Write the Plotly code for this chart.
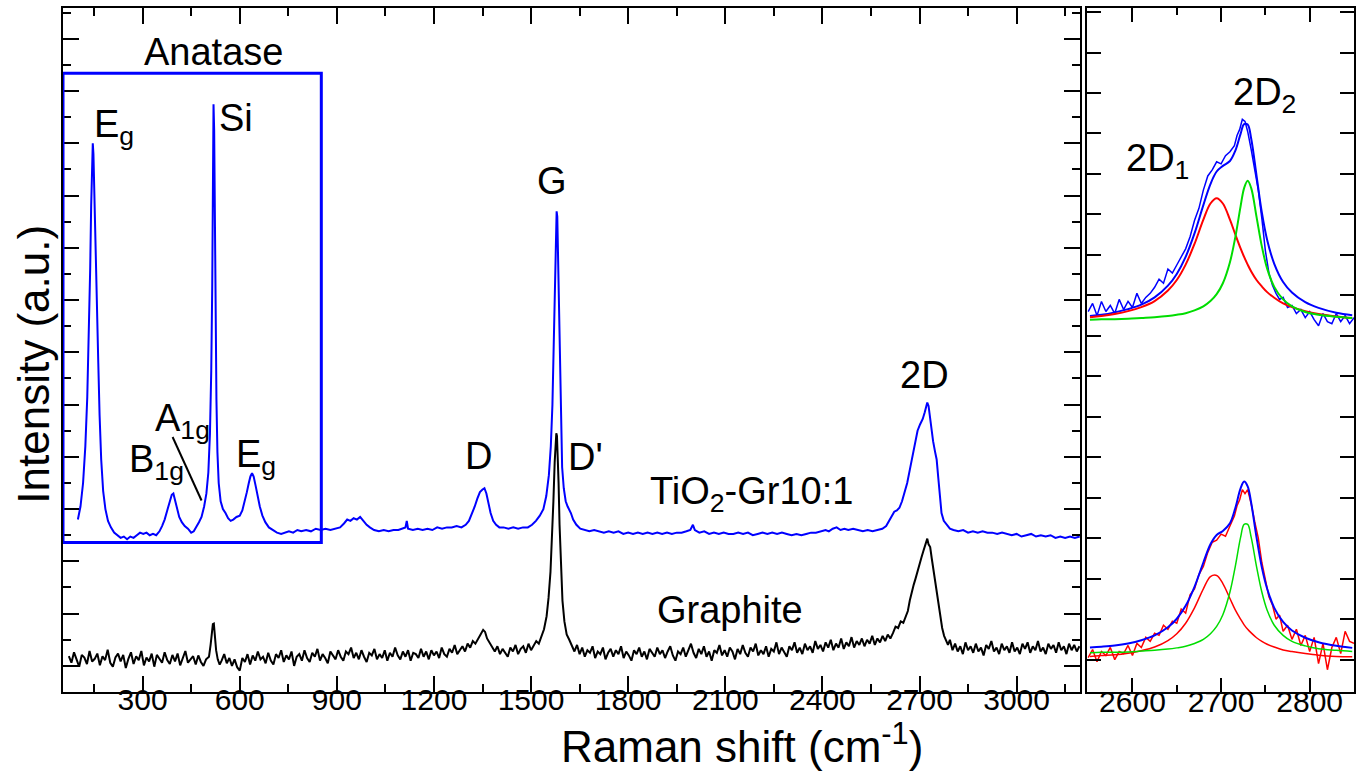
import plotly.graph_objects as go

# ---------------- main panel: TiO2-Gr10:1 (blue) ----------------
blue_x = [100,108,116,123,129,134,138,141,144,146,148,151,155,159,163,167,172,178,185,193,
          202,212,222,232,242,252,262,272,282,292,302,312,322,332,342,352,360,368,376,384,
          390,395,400,406,413,421,430,440,450,458,466,474,482,490,497,503,508,512,515,517,
          519,521,523,525,528,531,535,541,548,556,564,572,580,590,600,608,615,622,628,633,
          638,643,649,655,662,670,679,690,702,715,728,740,752,765,778,790,805,820,835,850,
          865,880,895,910,922,932,942,952,962,972,982,992,1002,1015,1030,1045,1060,1075,1090,1105,
          1112,1116,1120,1135,1150,1165,1180,1195,1210,1225,1240,1255,1270,1285,1298,1308,1317,1326,1334,1342,
          1350,1356,1362,1368,1375,1383,1392,1402,1415,1430,1445,1460,1475,1490,1503,1515,1527,1538,1547,1555,
          1561,1566,1570,1573,1576,1579,1581,1583,1586,1589,1592,1596,1601,1607,1613,1618,1623,1630,1640,1652,
          1665,1680,1695,1710,1725,1740,1755,1770,1785,1800,1815,1830,1845,1860,1875,1890,1905,1920,1935,1950,
          1965,1980,1992,2000,2006,2020,2035,2050,2065,2080,2095,2110,2125,2140,2155,2170,2185,2200,2215,2230,
          2245,2260,2275,2290,2305,2320,2335,2350,2365,2380,2395,2410,2420,2432,2444,2456,2468,2480,2495,2510,
          2525,2540,2555,2570,2585,2597,2606,2614,2622,2630,2638,2646,2654,2662,2670,2678,2686,2694,2702,2710,
          2716,2720,2724,2728,2732,2737,2742,2748,2753,2758,2763,2768,2775,2784,2794,2805,2820,2835,2850,2865,
          2880,2895,2910,2925,2940,2955,2970,2985,3000,3015,3030,3045,3060,3075,3090,3105,3120,3135,3150,3165,
          3180,3195]
blue_y = [6.6,7.1,8.0,9.4,11.3,13.6,16.2,18.6,20.5,21.0,20.6,19.2,17.0,14.8,12.6,10.6,8.9,7.7,7.0,6.55,
          6.3,6.1,6.0,5.9,5.95,5.85,5.95,5.9,6.0,6.1,6.05,6.1,6.0,6.05,6.0,6.15,6.35,6.6,6.95,7.35,
          7.55,7.6,7.35,7.0,6.7,6.5,6.35,6.25,6.1,6.15,6.3,6.5,6.7,7.1,7.6,8.4,9.9,12.3,15.5,19.0,
          22.5,21.5,18.0,14.5,11.2,9.2,8.0,7.3,7.0,6.85,6.65,6.55,6.6,6.7,6.75,6.95,7.25,7.65,8.0,8.25,
          8.38,8.25,7.9,7.5,7.1,6.75,6.5,6.3,6.2,6.1,6.05,6.1,6.15,6.1,6.2,6.15,6.2,6.15,6.25,6.2,
          6.25,6.2,6.25,6.3,6.45,6.6,6.55,6.65,6.6,6.7,6.55,6.4,6.3,6.2,6.15,6.2,6.15,6.2,6.2,6.25,
          6.3,6.55,6.25,6.2,6.25,6.2,6.25,6.2,6.3,6.25,6.3,6.3,6.35,6.3,6.4,6.55,6.8,7.1,7.4,7.65,
          7.75,7.8,7.6,7.25,6.85,6.55,6.4,6.3,6.3,6.25,6.3,6.25,6.3,6.3,6.4,6.55,6.75,7.0,7.5,8.3,
          9.4,11.0,13.2,15.5,17.5,18.4,18.2,16.8,14.5,12.0,10.0,8.6,7.8,7.3,7.1,7.0,6.85,6.6,6.4,6.25,
          6.2,6.15,6.2,6.15,6.1,6.15,6.1,6.15,6.05,6.1,6.05,6.1,6.05,6.1,6.05,6.1,6.05,6.1,6.05,6.1,
          6.1,6.15,6.2,6.4,6.2,6.1,6.15,6.05,6.1,6.05,6.1,6.05,6.05,6.1,6.05,6.1,6.0,6.05,6.1,6.05,
          6.1,6.05,6.1,6.05,6.0,6.05,6.0,6.05,6.1,6.1,6.15,6.2,6.15,6.25,6.3,6.2,6.25,6.2,6.25,6.2,
          6.15,6.2,6.15,6.2,6.25,6.35,6.55,6.75,6.9,6.95,7.05,7.3,7.65,8.0,8.5,9.0,9.55,10.0,10.25,10.45,
          10.7,10.95,11.08,10.95,10.5,10.0,9.6,9.2,8.9,8.2,7.4,6.85,6.55,6.4,6.25,6.2,6.15,6.2,6.1,6.15,
          6.1,6.15,6.1,6.1,6.05,6.1,6.05,6.0,6.05,5.95,6.0,6.05,5.95,6.0,5.95,6.0,5.9,5.95,5.9,5.95,
          5.9,5.95]

# ---------------- main panel: Graphite (black) ----------------
black_x = [72,80,88,96,104,112,120,128,136,144,
           152,160,168,176,184,192,200,208,216,224,
           232,240,248,256,264,272,280,288,296,304,
           312,320,328,336,344,352,360,368,376,384,
           392,400,408,416,424,432,440,448,456,464,
           472,480,488,496,505,510,514,517,520,523,
           527,532,538,544,552,560,568,576,584,592,
           600,608,616,624,632,640,648,656,664,672,
           680,688,696,704,712,720,728,736,744,752,
           760,768,776,784,792,800,808,816,824,832,
           840,848,856,864,872,880,888,896,904,912,
           920,928,936,944,952,960,968,976,984,992,
           1000,1008,1016,1024,1032,1040,1048,1056,1064,1072,
           1080,1088,1096,1104,1112,1120,1128,1136,1144,1152,
           1160,1168,1176,1184,1192,1200,1208,1216,1224,1232,
           1240,1248,1256,1264,1272,1280,1288,1296,1304,1312,
           1320,1328,1336,1344,1352,1358,1364,1372,1380,1388,
           1396,1404,1412,1420,1428,1436,1444,1452,1460,1468,
           1476,1484,1492,1500,1508,1516,1524,1532,1540,1548,
           1554,1560,1565,1569,1573,1576,1578,1580,1582,1585,
           1588,1592,1597,1603,1610,1618,1626,1634,1642,1650,
           1658,1666,1674,1682,1690,1698,1706,1714,1722,1730,
           1738,1746,1754,1762,1770,1778,1786,1794,1802,1810,
           1818,1826,1834,1842,1850,1858,1866,1874,1882,1890,
           1898,1906,1914,1922,1930,1938,1946,1954,1962,1970,
           1978,1986,1994,2002,2010,2018,2026,2034,2042,2050,
           2058,2066,2074,2082,2090,2098,2106,2114,2122,2130,
           2138,2146,2154,2162,2170,2178,2186,2194,2202,2210,
           2218,2226,2234,2242,2250,2258,2266,2274,2282,2290,
           2298,2306,2314,2322,2330,2338,2346,2354,2362,2370,
           2378,2386,2394,2402,2410,2418,2426,2434,2442,2450,
           2458,2466,2474,2482,2490,2498,2506,2514,2522,2530,
           2538,2546,2554,2562,2570,2578,2586,2594,2602,2610,
           2618,2626,2634,2642,2650,2658,2664,2670,2676,2682,
           2688,2694,2700,2706,2712,2717,2721,2724,2728,2733,
           2738,2743,2748,2753,2758,2764,2770,2776,2782,2788,
           2794,2802,2810,2818,2826,2834,2842,2850,2858,2866,
           2874,2882,2890,2898,2906,2914,2922,2930,2938,2946,
           2954,2962,2970,2978,2986,2994,3002,3010,3018,3026,
           3034,3042,3050,3058,3066,3074,3082,3090,3098,3106,
           3114,3122,3130,3138,3146,3154,3162,3170,3178,3186,
           3194]
black_y = [1.37,1.12,1.52,1.22,0.97,1.42,1.32,1.07,1.57,1.17,
           1.27,1.47,1.02,1.37,1.22,1.62,1.12,0.97,1.32,1.47,
           1.17,1.42,0.92,1.27,1.52,1.07,1.37,1.22,1.57,1.02,
           1.32,1.17,1.47,0.97,1.42,1.27,1.12,1.52,1.22,1.07,
           1.42,1.17,1.47,1.02,1.32,1.57,1.12,1.27,1.37,1.05,
           1.40,1.15,1.00,1.25,1.35,1.80,2.30,2.60,2.62,2.20,
           1.60,1.25,1.05,1.20,1.45,1.10,1.30,1.00,1.25,0.95,
           0.82,1.30,1.15,1.45,1.05,1.40,1.20,1.55,1.25,1.35,
           1.10,1.50,1.20,1.05,1.45,1.30,1.60,1.15,1.40,1.25,
           1.55,1.00,1.35,1.45,1.20,1.60,1.30,1.15,1.50,1.35,
           1.65,1.20,1.45,1.30,1.10,1.55,1.40,1.25,1.60,1.35,
           1.20,1.55,1.45,1.70,1.30,1.50,1.25,1.60,1.35,1.15,
           1.50,1.40,1.65,1.25,1.45,1.30,1.60,1.20,1.50,1.35,
           1.70,1.40,1.25,1.55,1.35,1.60,1.20,1.50,1.45,1.30,
           1.65,1.35,1.55,1.25,1.60,1.40,1.55,1.30,1.70,1.45,
           1.35,1.65,1.50,1.80,1.45,1.60,1.75,1.55,1.85,1.70,
           1.95,1.85,2.05,2.20,2.38,2.30,2.05,1.90,1.70,1.55,
           1.75,1.45,1.65,1.50,1.35,1.70,1.55,1.80,1.45,1.65,
           1.75,1.50,1.85,1.60,1.75,1.95,1.85,2.10,2.40,2.90,
           3.60,4.60,5.90,7.30,8.80,9.60,9.90,9.80,9.20,8.00,
           6.40,4.80,3.50,2.70,2.20,2.00,1.80,1.55,1.80,1.45,
           1.70,1.35,1.60,1.50,1.75,1.30,1.55,1.45,1.70,1.25,
           1.50,1.65,1.35,1.60,1.45,1.75,1.30,1.55,1.40,1.20,
           1.60,1.45,1.70,1.35,1.55,1.25,1.65,1.50,1.35,1.70,
           1.45,1.60,1.30,1.55,1.75,1.40,1.20,1.55,1.45,1.70,
           1.35,1.60,1.85,1.50,1.30,1.65,1.45,1.75,1.35,1.55,
           1.20,1.60,1.50,1.80,1.40,1.60,1.35,1.70,1.55,1.25,
           1.65,1.45,1.80,1.50,1.35,1.70,1.55,1.85,1.40,1.60,
           1.45,1.75,1.35,1.65,1.55,1.90,1.45,1.70,1.50,1.35,
           1.75,1.60,1.90,1.50,1.70,1.45,1.85,1.60,1.75,1.50,
           1.95,1.65,1.80,1.55,1.90,1.70,2.00,1.60,1.85,1.70,
           2.05,1.65,1.90,1.75,2.10,1.70,1.95,1.80,2.05,1.75,
           2.00,1.85,2.15,1.80,2.05,1.90,2.15,1.95,2.20,2.05,
           2.25,2.50,2.45,2.70,2.65,2.90,3.10,3.50,3.85,4.10,
           4.35,4.65,4.95,5.15,5.40,5.60,5.80,5.87,5.65,5.55,
           5.10,4.70,4.20,3.75,3.35,2.90,2.45,2.15,2.00,1.80,
           2.00,1.60,1.85,1.55,1.75,1.45,1.90,1.60,1.75,1.50,
           1.85,1.55,1.70,1.40,1.80,1.65,1.95,1.55,1.70,1.45,
           1.85,1.60,1.75,1.50,1.90,1.55,1.70,1.45,1.85,1.65,
           1.90,1.50,1.75,1.60,1.95,1.55,1.70,1.45,1.85,1.65,
           1.80,1.50,1.90,1.60,1.75,1.45,1.85,1.60,1.80,1.55,
           1.75]

# ---------------- right panel: 2D band fits ----------------
fit_x = [2552,2565,2580,2595,2610,2625,2640,2650,2660,2670,2680,2688,2695,2702,2710,
         2716,2722,2726,2730,2734,2740,2746,2752,2760,2770,2780,2795,2810,2830,2848]

# upper (TiO2-Gr10:1)
up_red = [8.46,8.49,8.54,8.61,8.71,8.86,9.12,9.38,9.76,10.27,10.87,11.27,11.40,11.27,10.87,
          10.51,10.16,9.95,9.76,9.59,9.38,9.22,9.08,8.94,8.80,8.71,8.61,8.54,8.48,8.44]
up_green = [8.40,8.41,8.41,8.42,8.44,8.46,8.49,8.52,8.56,8.63,8.73,8.86,9.03,9.30,9.82,
            10.43,11.20,11.65,11.83,11.65,10.94,10.21,9.66,9.21,8.90,8.73,8.59,8.52,8.47,8.44]
up_fit = [8.49,8.52,8.58,8.66,8.77,8.95,9.24,9.53,9.95,10.53,11.23,11.75,12.06,12.20,12.32,
          12.57,12.99,13.23,13.22,12.87,11.96,11.05,10.37,9.78,9.33,9.07,8.83,8.69,8.57,8.51]

up_data_x = [2550,2555,2560,2565,2570,2575,2580,2585,2590,2595,2600,2605,2610,2615,2620,2625,2630,2635,2640,2645,
             2650,2655,2660,2665,2670,2675,2680,2685,2690,2695,2700,2705,2710,2715,2718,2721,2724,2727,2730,2734,
             2738,2742,2746,2750,2754,2758,2762,2766,2770,2775,2780,2785,2790,2795,2800,2805,2810,2815,2820,2825,
             2830,2835,2840,2845,2850]
up_data_y = [8.6,8.8,8.5,8.85,8.6,8.75,8.55,8.9,8.65,8.85,8.7,9.05,8.8,8.95,9.05,9.2,9.4,9.3,9.65,9.55,
             9.75,9.95,10.15,10.45,10.85,11.15,11.6,11.95,12.1,12.3,12.25,12.45,12.55,12.7,12.95,13.1,13.35,13.3,13.05,12.6,
             12.1,11.6,10.9,10.1,9.55,9.25,9.05,8.9,8.95,8.7,8.75,8.55,8.65,8.45,8.6,8.4,8.25,8.55,8.35,8.3,
             8.55,8.35,8.5,8.3,8.45]

# lower (Graphite)
lo_red = [0.08,0.10,0.12,0.16,0.22,0.31,0.47,0.64,0.90,1.28,1.75,2.05,2.08,1.88,1.51,
          1.23,1.00,0.86,0.75,0.66,0.54,0.45,0.38,0.31,0.24,0.20,0.15,0.11,0.08,0.07]
lo_green = [0.17,0.18,0.18,0.19,0.21,0.23,0.26,0.29,0.33,0.40,0.50,0.64,0.82,1.11,1.67,
            2.30,3.02,3.34,3.34,3.02,2.30,1.67,1.22,0.85,0.60,0.45,0.34,0.27,0.23,0.20]
lo_fit = [0.30,0.32,0.35,0.40,0.48,0.60,0.80,1.01,1.33,1.80,2.40,2.85,3.08,3.18,3.37,
          3.74,4.23,4.40,4.28,3.87,3.02,2.28,1.75,1.28,0.93,0.72,0.54,0.43,0.34,0.29]

lo_data_x = up_data_x
lo_data_y = [0.05,0.25,-0.05,0.2,0.1,0.3,0.0,0.2,0.15,0.35,0.1,0.4,0.3,0.55,0.45,0.65,0.6,0.85,0.75,0.95,
             0.9,1.25,1.15,1.6,1.75,2.1,2.3,2.65,2.9,2.95,3.1,3.05,3.3,3.55,3.8,3.95,4.2,4.1,4.2,3.85,
             3.4,3.0,2.4,2.0,1.55,1.35,1.0,1.1,0.7,0.85,0.5,0.75,0.35,0.6,0.2,0.55,-0.1,0.4,-0.25,0.3,
             0.55,0.15,0.7,0.45,0.4]

BLUE = "#0000ff"
RED = "#ff0000"
GREEN = "#00dd00"
BLACK = "#000000"
FONT = "Arial, Liberation Sans, sans-serif"

fig = go.Figure()
fig.add_trace(go.Scatter(x=blue_x, y=blue_y, mode="lines", line=dict(color=BLUE, width=2),
                         xaxis="x", yaxis="y", showlegend=False))
fig.add_trace(go.Scatter(x=black_x, y=black_y, mode="lines", line=dict(color=BLACK, width=2),
                         xaxis="x", yaxis="y", showlegend=False))

fig.add_trace(go.Scatter(x=up_data_x, y=up_data_y, mode="lines", line=dict(color=BLUE, width=1.5),
                         xaxis="x2", yaxis="y2", showlegend=False))
fig.add_trace(go.Scatter(x=fit_x, y=up_fit, mode="lines", line=dict(color=BLUE, width=2, shape="spline"),
                         xaxis="x2", yaxis="y2", showlegend=False))
fig.add_trace(go.Scatter(x=fit_x, y=up_red, mode="lines", line=dict(color=RED, width=2, shape="spline"),
                         xaxis="x2", yaxis="y2", showlegend=False))
fig.add_trace(go.Scatter(x=fit_x, y=up_green, mode="lines", line=dict(color=GREEN, width=2, shape="spline"),
                         xaxis="x2", yaxis="y2", showlegend=False))
fig.add_trace(go.Scatter(x=lo_data_x, y=lo_data_y, mode="lines", line=dict(color=RED, width=1.5),
                         xaxis="x2", yaxis="y2", showlegend=False))
fig.add_trace(go.Scatter(x=fit_x, y=lo_fit, mode="lines", line=dict(color=BLUE, width=2, shape="spline"),
                         xaxis="x2", yaxis="y2", showlegend=False))
fig.add_trace(go.Scatter(x=fit_x, y=lo_red, mode="lines", line=dict(color=RED, width=1.5, shape="spline"),
                         xaxis="x2", yaxis="y2", showlegend=False))
fig.add_trace(go.Scatter(x=fit_x, y=lo_green, mode="lines", line=dict(color=GREEN, width=1.5, shape="spline"),
                         xaxis="x2", yaxis="y2", showlegend=False))

axis_common = dict(showline=True, linecolor=BLACK, linewidth=2, mirror="allticks",
                   showgrid=False, zeroline=False, ticks="inside", tickcolor=BLACK, tickwidth=2)

fig.update_layout(
    width=1369, height=779,
    margin=dict(l=63, r=15, t=6, b=87),
    paper_bgcolor="white", plot_bgcolor="white",
    font=dict(family=FONT, color=BLACK, size=30),
    xaxis=dict(domain=[0, 0.7878], range=[54, 3196], tickmode="linear", tick0=0, dtick=300,
               ticklen=16, ticklabelstandoff=-20, tickfont=dict(size=30, family=FONT, color=BLACK),
               minor=dict(tick0=0, dtick=150, ticklen=8, ticks="inside", tickwidth=2, tickcolor=BLACK),
               anchor="y", **axis_common),
    yaxis=dict(domain=[0, 1], range=[0, 26.18], tickmode="linear", tick0=1, dtick=2,
               ticklen=16, showticklabels=False,
               minor=dict(tick0=0, dtick=1, ticklen=8, ticks="inside", tickwidth=2, tickcolor=BLACK),
               anchor="x", **axis_common),
    xaxis2=dict(domain=[0.7934, 1], range=[2549, 2850], tickmode="linear", tick0=0, dtick=100,
                ticklen=14, ticklabelstandoff=-18, tickfont=dict(size=30, family=FONT, color=BLACK),
                minor=dict(tick0=0, dtick=50, ticklen=7, ticks="inside", tickwidth=2, tickcolor=BLACK),
                anchor="y2", **axis_common),
    yaxis2=dict(domain=[0, 1], range=[-0.80, 16.10], tickmode="linear", tick0=0, dtick=1,
                ticklen=14, showticklabels=False, anchor="x2", **axis_common),
)

fig.add_shape(type="rect", xref="x", yref="y", x0=54, x1=852, y0=5.72, y1=23.68,
              line=dict(color=BLUE, width=3))
fig.add_shape(type="line", xref="x", yref="y", x0=392.6, y0=9.76, x1=482, y1=7.33,
              line=dict(color=BLACK, width=2))

def label(text, x, y, xanchor="center", xref="x", yref="y", size=38):
    fig.add_annotation(text=text, x=x, y=y, xref=xref, yref=yref, xanchor=xanchor, yanchor="middle",
                       showarrow=False, font=dict(size=size, family=FONT, color=BLACK))

label("Anatase", 518, 24.5)
label("E<sub>g</sub>", 143.5, 21.62, xanchor="left")
label("Si", 588, 21.97)
label("A<sub>1g</sub>", 331.8, 10.38, xanchor="left")
label("B<sub>1g</sub>", 251.5, 8.80, xanchor="left")
label("E<sub>g</sub>", 582, 9.01, xanchor="left")
label("G", 1563.5, 19.54)
label("D", 1338, 9.05)
label("D'", 1607.7, 9.0, xanchor="left")
label("TiO<sub>2</sub>-Gr10:1", 1861, 7.56, xanchor="left")
label("Graphite", 1881.6, 3.13, xanchor="left")
label("2D", 2716, 12.14)
label("2D<sub>1</sub>", 2590.6, 12.32, xanchor="left", xref="x2", yref="y2")
label("2D<sub>2</sub>", 2711.2, 13.96, xanchor="left", xref="x2", yref="y2")

fig.add_annotation(text="Intensity (a.u.)", x=-0.0225, y=0.48, xref="paper", yref="paper",
                   xanchor="center", yanchor="middle", textangle=-90, showarrow=False,
                   font=dict(size=44, family=FONT, color=BLACK))
fig.add_annotation(text="Raman shift (cm<sup>-1</sup>)", x=0.526, y=-0.0758, xref="paper", yref="paper",
                   xanchor="center", yanchor="middle", showarrow=False,
                   font=dict(size=44, family=FONT, color=BLACK))

fig.write_html("out.html", config={"displayModeBar": False},
               post_script="document.body.style.margin='0px';")
